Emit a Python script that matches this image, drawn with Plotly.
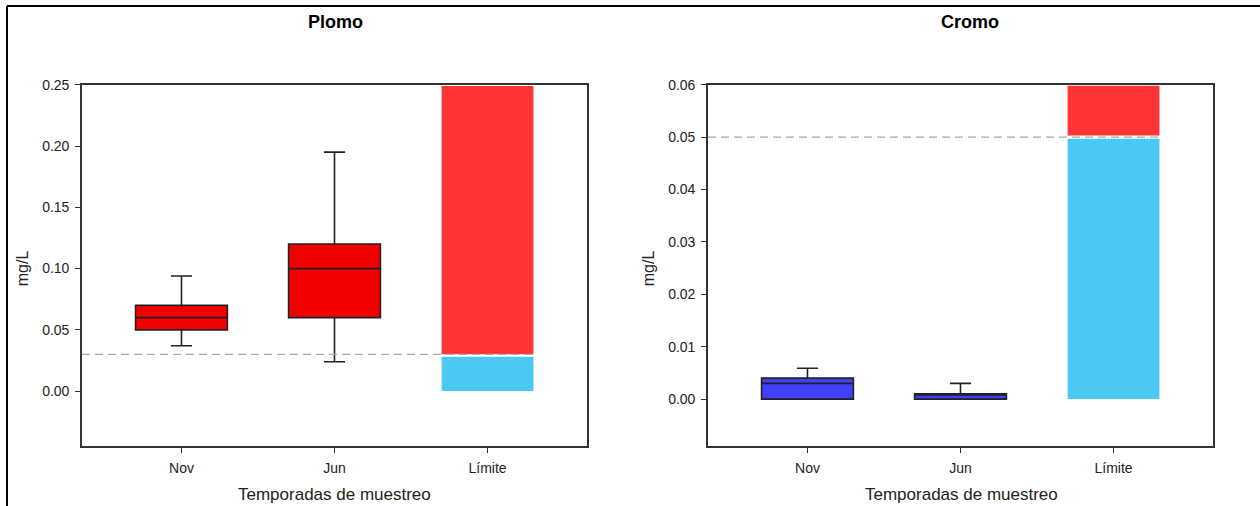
import plotly.graph_objects as go

W, H = 1260, 506
FONT = "Liberation Sans, Arial, sans-serif"

categorias = ["Nov", "Jun", "Límite"]
temporadas = ["Nov", "Jun"]

# Plomo (mg/L)
pb_min = [0.037, 0.024]
pb_q1 = [0.05, 0.06]
pb_med = [0.06, 0.10]
pb_q3 = [0.07, 0.12]
pb_max = [0.094, 0.195]
pb_limite = 0.03
pb_bajo = [0.028]          # cyan part (below limit)
pb_alto_base = [0.03]
pb_alto_top = [0.249]

# Cromo (mg/L)
cr_min = [0.0, 0.0]
cr_q1 = [0.0, 0.0]
cr_med = [0.003, 0.001]
cr_q3 = [0.004, 0.001]
cr_max = [0.0059, 0.003]
cr_limite = 0.05
cr_bajo = [0.0497]
cr_alto_base = [0.0503]
cr_alto_top = [0.0598]

def px(x):
    return x / W

def py(y):
    # small empirical correction for the page's vertical placement
    y = (y - 6.0) / 0.987
    return 1 - y / H

fig = go.Figure()

# --- Plomo ---
fig.add_trace(go.Box(
    x=temporadas, q1=pb_q1, median=pb_med, q3=pb_q3,
    lowerfence=pb_min, upperfence=pb_max,
    fillcolor="#F20000", line=dict(color="#222222", width=1.6),
    width=0.6, whiskerwidth=0.23, xaxis="x", yaxis="y", showlegend=False,
    hoverinfo="skip"))
fig.add_trace(go.Bar(
    x=["Límite"], y=pb_bajo, base=[0], width=0.6,
    marker=dict(color="#4CC9F3", line=dict(width=0)),
    xaxis="x", yaxis="y", showlegend=False))
fig.add_trace(go.Bar(
    x=["Límite"], y=[t - b for t, b in zip(pb_alto_top, pb_alto_base)],
    base=pb_alto_base, width=0.6,
    marker=dict(color="#FF3535", line=dict(width=0)),
    xaxis="x", yaxis="y", showlegend=False))

# --- Cromo ---
fig.add_trace(go.Box(
    x=temporadas, q1=cr_q1, median=cr_med, q3=cr_q3,
    lowerfence=cr_min, upperfence=cr_max,
    fillcolor="#4040FF", line=dict(color="#222222", width=1.6),
    width=0.6, whiskerwidth=0.23, xaxis="x2", yaxis="y2", showlegend=False,
    hoverinfo="skip"))
fig.add_trace(go.Bar(
    x=["Límite"], y=cr_bajo, base=[0], width=0.6,
    marker=dict(color="#4CC9F3", line=dict(width=0)),
    xaxis="x2", yaxis="y2", showlegend=False))
fig.add_trace(go.Bar(
    x=["Límite"], y=[t - b for t, b in zip(cr_alto_top, cr_alto_base)],
    base=cr_alto_base, width=0.6,
    marker=dict(color="#FF3535", line=dict(width=0)),
    xaxis="x2", yaxis="y2", showlegend=False))

axis_common = dict(
    showline=True, linecolor="#333333", linewidth=1.6, mirror=True,
    showgrid=False, zeroline=False, ticks="outside", ticklen=5,
    tickcolor="#333333", tickwidth=1.2, ticklabelstandoff=3,
    tickfont=dict(family=FONT, size=14, color="#222222"),
)

ydom = [py(445.5), py(83)]
fig.update_layout(
    width=W, height=H,
    margin=dict(l=0, r=0, t=0, b=0),
    paper_bgcolor="white", plot_bgcolor="white",
    barmode="overlay", boxmode="overlay",
    xaxis=dict(domain=[px(82), px(587)], type="category",
               categoryorder="array", categoryarray=categorias,
               range=[-0.65, 2.65], anchor="y", **axis_common),
    yaxis=dict(domain=ydom, range=[-0.045, 0.25], anchor="x",
               tickvals=[0, 0.05, 0.10, 0.15, 0.20, 0.25], tickformat=".2f",
               **axis_common),
    xaxis2=dict(domain=[px(708), px(1213)], type="category",
                categoryorder="array", categoryarray=categorias,
                range=[-0.65, 2.65], anchor="y2", **axis_common),
    yaxis2=dict(domain=ydom, range=[-0.009, 0.06], anchor="x2",
                tickvals=[0, 0.01, 0.02, 0.03, 0.04, 0.05, 0.06], tickformat=".2f",
                **axis_common),
)

# dashed limit lines
fig.add_shape(type="line", xref="x", yref="y", x0=-0.65, x1=2.3,
              y0=pb_limite, y1=pb_limite,
              line=dict(color="#A8A8A8", width=1.2, dash="8px,5px"), layer="above")
fig.add_shape(type="line", xref="x2", yref="y2", x0=-0.65, x1=2.3,
              y0=cr_limite, y1=cr_limite,
              line=dict(color="#A8A8A8", width=1.2, dash="8px,5px"), layer="above")

# image frame lines (left and top)
fig.add_shape(type="line", xref="paper", yref="paper", x0=px(7), x1=px(7),
              y0=-0.05, y1=py(4), line=dict(color="black", width=2))
fig.add_shape(type="line", xref="paper", yref="paper", x0=px(7), x1=1,
              y0=py(4), y1=py(4), line=dict(color="black", width=2))

def note(text, x, y, size, angle=0, color="#222222"):
    return dict(text=text, x=px(x), y=py(y), xref="paper", yref="paper",
                xanchor="center", yanchor="middle", showarrow=False,
                textangle=angle, font=dict(family=FONT, size=size, color=color))

ann = [
    note("<b>Plomo</b>", 335, 20, 18, color="black"),
    note("<b>Cromo</b>", 970, 20, 18, color="black"),
    note("mg/L", 22, 267, 16, angle=-90),
    note("mg/L", 648, 267, 16, angle=-90),
    note("Temporadas de muestreo", 334, 494, 17),
    note("Temporadas de muestreo", 961, 494, 17),
]
fig.update_layout(annotations=ann)

fig.write_html("out.html", config={"displayModeBar": False},
               post_script="document.body.style.margin='0';document.body.style.overflow='hidden';")
